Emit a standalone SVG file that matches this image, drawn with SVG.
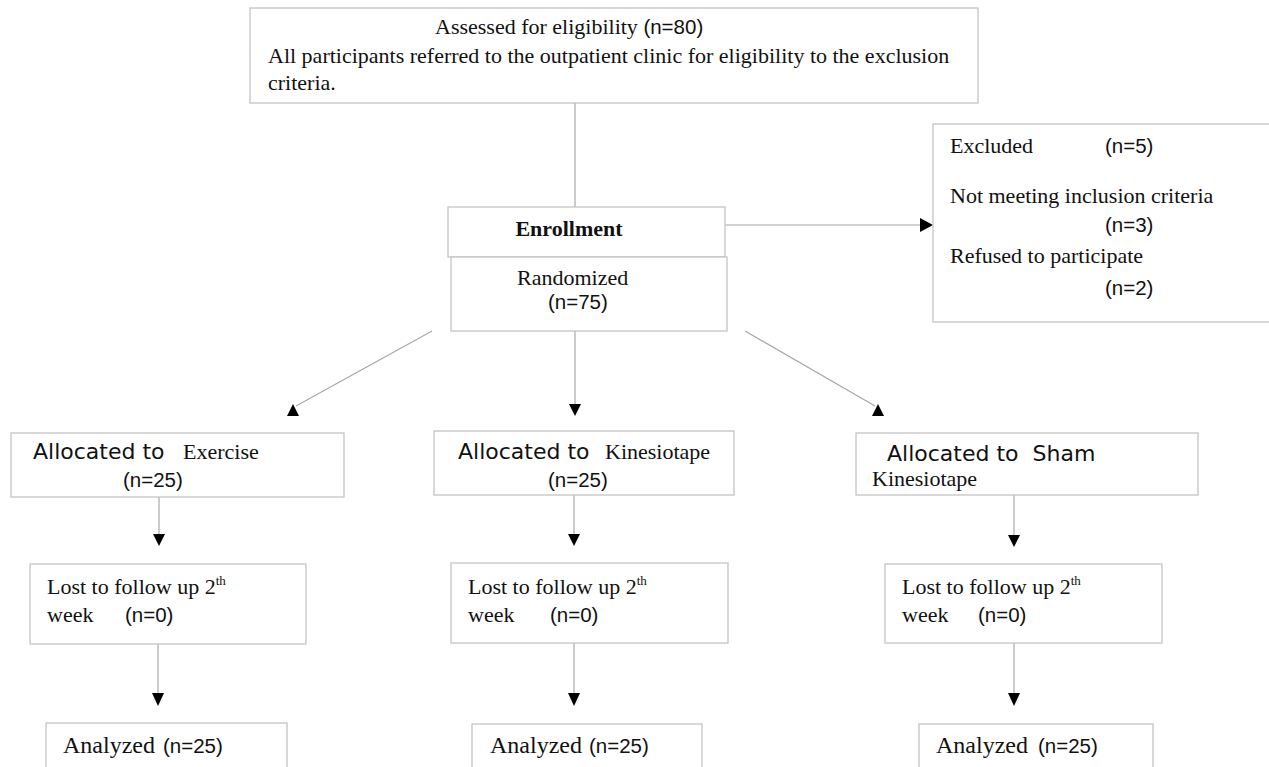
<svg xmlns="http://www.w3.org/2000/svg" width="1269" height="767" viewBox="0 0 1269 767">
<style>
.box{fill:#fff;stroke:#c4c4c4;stroke-width:1.3}
.ln{stroke:#a8a8a8;stroke-width:1.2;fill:none}
.ah{fill:#000}
.s{font-family:"Liberation Serif","Times New Roman",serif;font-size:22px;fill:#111}
.a{font-family:"Liberation Serif","Times New Roman",serif;font-size:24px;fill:#111}
.b{font-family:"Liberation Serif","Times New Roman",serif;font-size:22px;font-weight:bold;fill:#111}
.n{font-family:"Liberation Sans",Arial,sans-serif;font-size:20.5px;fill:#111}
.d{font-family:"DejaVu Sans",sans-serif;font-size:22px;fill:#111}
.sup{font-size:13px}
</style>
<rect width="1269" height="767" fill="#fff"/>
<g id="connectors">
<line class="ln" x1="575" y1="103" x2="575" y2="207"/>
<line class="ln" x1="725" y1="225" x2="922" y2="225"/>
<polygon class="ah" points="920,218 920,232 933,225"/>
<line class="ln" x1="432" y1="331" x2="296" y2="406"/>
<polygon class="ah" points="287,416 299,416 293,404"/>
<line class="ln" x1="575" y1="331" x2="575" y2="404"/>
<polygon class="ah" points="569,404 581,404 575,416"/>
<line class="ln" x1="745" y1="331" x2="875" y2="406"/>
<polygon class="ah" points="872,416 884,416 878,404"/>
<line class="ln" x1="159" y1="497" x2="159" y2="534"/>
<polygon class="ah" points="153,534 165,534 159,546"/>
<line class="ln" x1="574" y1="495" x2="574" y2="534"/>
<polygon class="ah" points="568,534 580,534 574,546"/>
<line class="ln" x1="1014" y1="495" x2="1014" y2="535"/>
<polygon class="ah" points="1008,535 1020,535 1014,547"/>
<line class="ln" x1="158" y1="644" x2="158" y2="693"/>
<polygon class="ah" points="152,693 164,693 158,706"/>
<line class="ln" x1="574" y1="643" x2="574" y2="693"/>
<polygon class="ah" points="568,693 580,693 574,706"/>
<line class="ln" x1="1014" y1="643" x2="1014" y2="693"/>
<polygon class="ah" points="1008,693 1020,693 1014,706"/>
</g>
<g id="assessed">
<rect class="box" x="250" y="8" width="728" height="95"/>
<text x="435" y="34"><tspan class="s">Assessed for eligibility </tspan><tspan class="n">(n=80)</tspan></text>
<text class="s" x="268" y="63">All participants referred to the outpatient clinic for eligibility to the exclusion</text>
<text class="s" x="268" y="90">criteria.</text>
</g>
<g id="enrollment">
<rect class="box" x="448" y="207" width="277" height="50"/>
<text class="b" x="569" y="236" text-anchor="middle">Enrollment</text>
</g>
<g id="randomized">
<rect class="box" x="451" y="257" width="276" height="74"/>
<text class="s" x="517" y="285">Randomized</text>
<text class="n" x="548" y="309">(n=75)</text>
</g>
<g id="excluded">
<rect class="box" x="933" y="124" width="340" height="198"/>
<text class="s" x="950" y="153">Excluded</text>
<text class="n" x="1105" y="153">(n=5)</text>
<text class="s" x="950" y="203">Not meeting inclusion criteria</text>
<text class="n" x="1105" y="232">(n=3)</text>
<text class="s" x="950" y="263">Refused to participate</text>
<text class="n" x="1105" y="295">(n=2)</text>
</g>
<g id="alloc-exercise">
<rect class="box" x="11" y="433" width="333" height="64"/>
<text x="33" y="459"><tspan class="d">Allocated to</tspan><tspan class="s" x="183">Exercise</tspan></text>
<text class="n" x="123" y="487">(n=25)</text>
</g>
<g id="alloc-kinesio">
<rect class="box" x="434" y="431" width="300" height="64"/>
<text x="458" y="459"><tspan class="d">Allocated to</tspan><tspan class="s" x="605">Kinesiotape</tspan></text>
<text class="n" x="548" y="487">(n=25)</text>
</g>
<g id="alloc-sham">
<rect class="box" x="856" y="433" width="342" height="62"/>
<text class="d" x="887" y="461" xml:space="preserve">Allocated to  Sham</text>
<text class="s" x="872" y="486">Kinesiotape</text>
</g>
<g id="lost-exercise">
<rect class="box" x="30" y="564" width="276" height="80"/>
<text class="s" x="47" y="594">Lost to follow up 2<tspan class="sup" dy="-9">th</tspan></text>
<text x="47" y="622"><tspan class="s">week</tspan><tspan class="n" x="125">(n=0)</tspan></text>
</g>
<g id="lost-kinesio">
<rect class="box" x="451" y="563" width="277" height="80"/>
<text class="s" x="468" y="594">Lost to follow up 2<tspan class="sup" dy="-9">th</tspan></text>
<text x="468" y="622"><tspan class="s">week</tspan><tspan class="n" x="550">(n=0)</tspan></text>
</g>
<g id="lost-sham">
<rect class="box" x="885" y="564" width="277" height="79"/>
<text class="s" x="902" y="594">Lost to follow up 2<tspan class="sup" dy="-9">th</tspan></text>
<text x="902" y="622"><tspan class="s">week</tspan><tspan class="n" x="978">(n=0)</tspan></text>
</g>
<g id="analyzed-exercise">
<rect class="box" x="46" y="723" width="241" height="60"/>
<text x="63" y="753"><tspan class="a">Analyzed</tspan><tspan class="n" x="163">(n=25)</tspan></text>
</g>
<g id="analyzed-kinesio">
<rect class="box" x="472" y="724" width="230" height="60"/>
<text x="490" y="753"><tspan class="a">Analyzed</tspan><tspan class="n" x="589">(n=25)</tspan></text>
</g>
<g id="analyzed-sham">
<rect class="box" x="919" y="724" width="234" height="60"/>
<text x="936" y="753"><tspan class="a">Analyzed</tspan><tspan class="n" x="1038">(n=25)</tspan></text>
</g>
</svg>
